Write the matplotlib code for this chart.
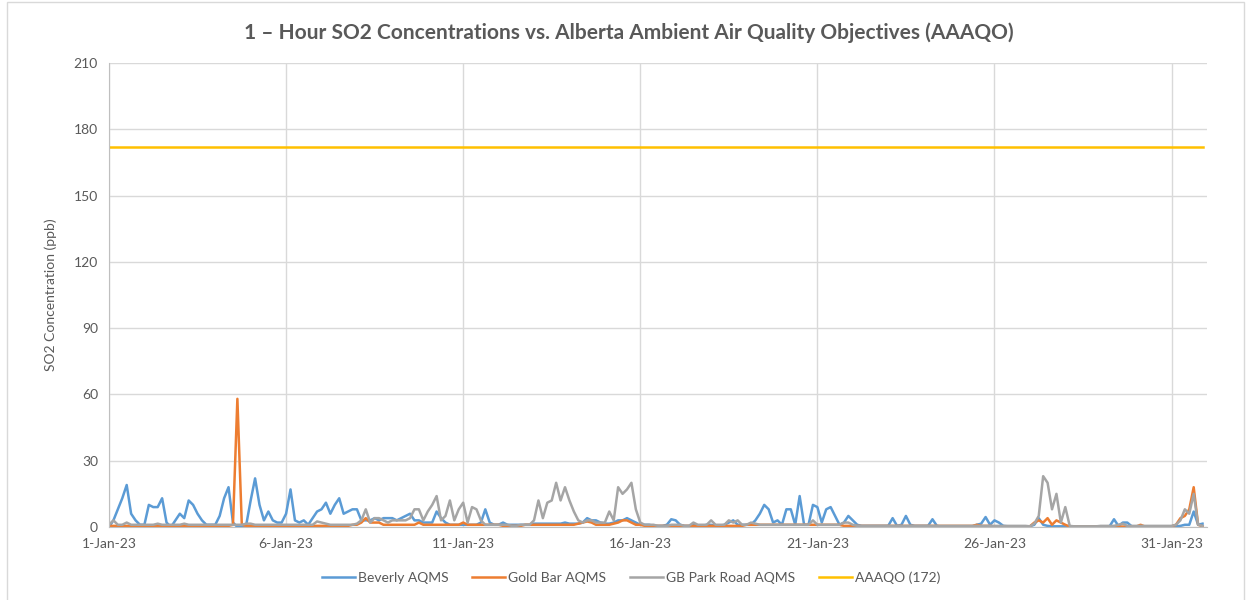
import numpy as np
import pandas as pd
import matplotlib
matplotlib.use('Agg')
import matplotlib.pyplot as plt
from matplotlib.patches import Rectangle

plt.rcParams['font.family'] = ['Lato', 'DejaVu Sans']

# SO2 readings (ppb), one value every 3 hours, one row per day of January 2023
beverly = [
    0, 3, 8, 13, 19, 6, 3, 1,
    1, 10, 9, 9, 13, 2, 0, 3,
    6, 4, 12, 10, 6, 3, 1, 1,
    1, 5, 13, 18, 2, 0, 0, 1,
    12, 22, 10, 3, 7, 3, 2, 2,
    6, 17, 3, 2, 3, 1, 4, 7,
    8, 11, 6, 10, 13, 6, 7, 8,
    8, 3, 3, 3, 4, 3, 4, 4,
    4, 3, 4, 5, 6, 3, 3, 2,
    2, 2, 7, 4, 2, 1, 1, 1,
    1, 1, 1, 1, 2, 8, 2, 1,
    1, 2, 1, 1, 1, 1, 1, 1,
    1.5, 1.5, 1.5, 1.5, 1.5, 1.5, 1.5, 2,
    1.5, 1.5, 1.5, 2, 4, 3, 3, 2,
    1.5, 1.5, 2, 3, 3, 4, 3, 2,
    1, 1, 1, 0.5, 0.5, 0.5, 1, 3.5,
    3, 1, 0.5, 0.5, 1, 0.5, 0.5, 1,
    1, 0.5, 0.5, 1, 2, 3, 1, 1,
    1, 1, 3, 6, 10, 8, 2, 3,
    1, 8, 8, 1, 14, 1, 1, 10,
    9, 2, 8, 9, 5, 1, 2, 5,
    3, 1, 0.5, 0.5, 0.5, 0.5, 0.5, 0.5,
    0.5, 4, 0.5, 1, 5, 1, 0.5, 0.5,
    0.5, 0.5, 3.5, 0.5, 0.2, 0.2, 0.2, 0.2,
    0.2, 0.2, 0.2, 0.2, 1, 1.5, 4.5, 1,
    3, 2, 0.5, 0.3, 0.2, 0.2, 0.2, 0.2,
    0.3, 1, 4, 1, 0.5, 0.3, 0.3, 0.3,
    0.3, 0.3, 0.3, 0.3, 0.3, 0.3, 0.3, 0.3,
    0.3, 0.3, 0.3, 3.5, 0.5, 2, 2, 0.3,
    0.3, 0.3, 0.3, 0.3, 0.3, 0.3, 0.3, 0.3,
    0.3, 0.3, 0.5, 1, 1, 7, 1, 1.5,
]

gold_bar = [
    0.5, 0.5, 0.5, 0.5, 0.5, 0.5, 0.5, 0.5,
    0.5, 0.5, 0.5, 0.5, 0.5, 0.5, 0.5, 0.5,
    0.5, 0.5, 0.5, 0.5, 0.5, 0.5, 0.5, 0.5,
    0.5, 0.5, 0.5, 0.5, 1, 58, 1, 0.5,
    0.5, 0.5, 0.5, 0.5, 0.5, 0.5, 0.5, 0.5,
    0.5, 0.5, 0.5, 0.5, 0.5, 0.5, 0.5, 0.5,
    0.5, 0.5, 0.5, 0.5, 0.5, 0.5, 0.5, 1,
    1, 2, 4, 2, 2, 2, 1, 1,
    1, 1, 1, 1, 1, 1, 2, 1,
    1, 1, 1, 1, 1, 1, 1, 1,
    2, 1, 1, 1, 1, 1, 1, 1,
    1, 0.5, 0.5, 0.5, 0.5, 0.5, 1, 1,
    1, 1, 1, 1, 1, 1, 1, 1,
    1, 1, 1.5, 2, 2.5, 2, 1, 1,
    1, 1, 1.5, 2, 3, 3, 2, 1,
    1, 0.5, 0.5, 0.5, 0.5, 0.5, 0.5, 0.5,
    0.5, 0.5, 0.5, 0.5, 0.5, 0.5, 0.5, 0.5,
    0.5, 0.5, 0.5, 0.5, 0.5, 0.5, 0.5, 0.5,
    1, 1, 1, 1, 1, 1, 1, 1,
    1, 1, 1, 1, 1, 1, 1, 1,
    1, 1, 1, 1, 1, 1, 0.5, 0.5,
    0.5, 0.5, 0.5, 0.5, 0.5, 0.5, 0.5, 0.5,
    0.5, 0.5, 0.5, 0.5, 0.5, 0.5, 0.5, 0.5,
    0.5, 0.5, 0.5, 0.5, 0.5, 0.5, 0.5, 0.5,
    0.5, 0.5, 0.5, 0.5, 1, 0.5, 0.5, 0.5,
    0.3, 0.3, 0.3, 0.3, 0.3, 0.3, 0.3, 0.3,
    0.3, 2, 3, 2, 4, 1, 3, 2,
    1, 0.2, 0.2, 0.2, 0.2, 0.2, 0.2, 0.2,
    0.2, 0.2, 0.2, 0.2, 0.2, 0.2, 0.2, 0.2,
    0.2, 1, 0.2, 0.2, 0.2, 0.2, 0.2, 0.2,
    0.3, 1, 4, 5, 8, 18, 1, 0.3,
]

gb_park = [
    1, 3, 1, 1, 2, 1, 1, 1,
    1, 1, 1, 1.5, 1, 1, 1, 1,
    1, 1.5, 1, 1, 1, 1, 1, 1,
    1, 1, 1, 1, 1, 1, 1, 1.5,
    1.5, 1, 1, 1, 1, 1, 1, 1,
    1, 1, 1, 1, 1, 1, 1, 2.5,
    2, 1.5, 1, 1, 1, 1, 1, 1,
    1.5, 3, 8, 2, 4, 4, 3, 2,
    3, 3, 3, 3, 4, 8, 8, 3,
    7, 10, 14, 3, 5, 12, 3, 8,
    11, 2, 9, 8, 3, 1, 1, 1,
    1, 1, 1, 0.5, 0.5, 1, 1, 1,
    3, 12, 4, 11, 12, 20, 12, 18,
    12, 7, 3, 2, 3, 3, 2, 2,
    2, 7, 3, 18, 15, 17, 20, 8,
    2, 1, 1, 1, 0.5, 0.5, 0.5, 1,
    1, 1, 0.5, 0.5, 2, 1, 1, 1,
    3, 1, 1, 1, 3, 2, 3, 1,
    1, 2, 1.5, 1, 1, 1, 1, 1,
    1, 1, 1, 1, 1, 1, 1, 3,
    1, 1, 1, 1, 1, 1, 2, 2,
    1, 0.5, 0.5, 0.5, 0.5, 0.5, 0.5, 0.5,
    0.5, 0.5, 0.5, 0.5, 0.5, 0.5, 0.5, 0.5,
    0.5, 0.5, 0.5, 0.5, 0.5, 0.5, 0.5, 0.5,
    0.5, 0.5, 0.5, 0.5, 0.5, 0.5, 0.5, 0.5,
    0.5, 0.5, 0.5, 0.5, 0.5, 0.5, 0.5, 0.5,
    0.3, 1.5, 5, 23, 20, 8, 15, 2,
    9, 0.5, 0.3, 0.3, 0.3, 0.3, 0.3, 0.3,
    0.5, 0.5, 0.5, 0.5, 1, 1.5, 0.5, 0.5,
    0.5, 0.5, 0.5, 0.5, 0.5, 0.5, 0.5, 0.5,
    0.5, 1, 3, 8, 6, 15, 1, 0.5,
]

aaaqo_limit = 172
y_ticks = [0, 30, 60, 90, 120, 150, 180, 210]
x_tick_days = [1, 6, 11, 16, 21, 26, 31]

times = pd.date_range('2023-01-01', periods=len(beverly), freq='3h')
aaaqo = np.full(len(times), aaaqo_limit)

text_col = '#595959'
grid_col = '#d9d9d9'

fig = plt.figure(figsize=(12.47, 6.0), dpi=100)
ax = fig.add_axes([0.0874, 0.1217, 0.8805, 0.7733])

ax.plot(times, beverly, color='#5B9BD5', lw=1.8, label='Beverly AQMS', solid_joinstyle='round')
ax.plot(times, gold_bar, color='#ED7D31', lw=1.8, label='Gold Bar AQMS', solid_joinstyle='round')
ax.plot(times, gb_park, color='#A5A5A5', lw=1.8, label='GB Park Road AQMS', solid_joinstyle='round')
ax.plot(times, aaaqo, color='#FFC000', lw=1.8, label='AAAQO (172)')

ax.set_xlim(pd.Timestamp('2023-01-01'), pd.Timestamp('2023-02-01'))
ax.set_ylim(0, 210)
ax.set_yticks(y_ticks)

tick_dates = [pd.Timestamp(2023, 1, d) for d in x_tick_days]
ax.set_xticks(tick_dates)
ax.set_xticklabels([f"{d.day}-{d.strftime('%b-%y')}" for d in tick_dates])

ax.grid(True, color=grid_col, lw=1)
ax.set_axisbelow(True)
ax.tick_params(length=0, colors=text_col, labelsize=10, pad=8)
for s in ['top', 'right']:
    ax.spines[s].set_visible(False)
for s in ['left', 'bottom']:
    ax.spines[s].set_color('#bfbfbf')

ax.set_ylabel('SO2 Concentration (ppb)', color=text_col, fontsize=10, labelpad=12)
fig.suptitle('1 – Hour SO2 Concentrations vs. Alberta Ambient Air Quality Objectives (AAAQO)',
             x=0.504, y=0.962, color=text_col, fontsize=15, fontweight='bold')

leg = fig.legend(loc='center', bbox_to_anchor=(0.506, 0.037), ncol=4, frameon=False,
                 fontsize=10, handlelength=2.4, handletextpad=0.2, columnspacing=1.7)
for t in leg.get_texts():
    t.set_color(text_col)

# borde exterior del grafico
fig.patches.append(Rectangle((0.0056, -0.01), 0.992, 1.007, transform=fig.transFigure,
                             fill=False, edgecolor=grid_col, lw=1))

fig.savefig('out.png', dpi=100)
